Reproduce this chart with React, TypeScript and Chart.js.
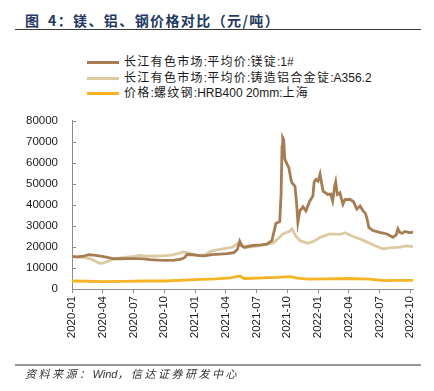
import React, { useEffect, useRef } from "react";
import { Chart, registerables } from "chart.js";

Chart.register(...registerables);

const TITLE = "图 4：镁、铝、钢价格对比（元/吨）";
const SOURCE = "资料来源：Wind，信达证券研发中心";

const seriesNames = [
  "长江有色市场:平均价:镁锭:1#",
  "长江有色市场:平均价:铸造铝合金锭:A356.2",
  "价格:螺纹钢:HRB400 20mm:上海",
];
const seriesColors = ["#A67C52", "#DCCAA2", "#F6B324"];

const xTickLabels = [
  "2020-01", "2020-04", "2020-07", "2020-10",
  "2021-01", "2021-04", "2021-07", "2021-10",
  "2022-01", "2022-04", "2022-07", "2022-10",
];
const yTickValues = [0, 10000, 20000, 30000, 40000, 50000, 60000, 70000, 80000];

const mgDates = [
  "2020-01-01", "2020-01-15", "2020-02-05", "2020-02-20", "2020-03-05", "2020-03-25",
  "2020-04-15", "2020-05-01", "2020-05-20", "2020-06-15", "2020-07-10", "2020-08-01",
  "2020-08-20", "2020-09-15", "2020-10-10", "2020-11-01", "2020-11-20", "2020-12-01",
  "2020-12-07", "2020-12-25", "2021-01-15", "2021-01-30", "2021-02-20", "2021-03-15",
  "2021-04-05", "2021-04-25", "2021-05-05", "2021-05-12", "2021-05-18", "2021-05-25",
  "2021-06-20", "2021-07-15", "2021-08-01", "2021-08-16", "2021-08-25", "2021-08-28",
  "2021-09-09", "2021-09-13", "2021-09-16", "2021-09-18", "2021-09-21", "2021-09-24",
  "2021-09-27", "2021-10-06", "2021-10-12", "2021-10-15", "2021-10-24", "2021-10-29",
  "2021-11-02", "2021-11-08", "2021-11-17", "2021-11-26", "2021-12-07", "2021-12-16",
  "2021-12-20", "2021-12-25", "2022-01-01", "2022-01-07", "2022-01-12", "2022-01-16",
  "2022-01-30", "2022-02-08", "2022-02-14", "2022-02-20", "2022-02-23", "2022-02-28",
  "2022-03-05", "2022-03-14", "2022-03-20", "2022-04-04", "2022-04-15", "2022-04-25",
  "2022-05-04", "2022-05-13", "2022-05-20", "2022-05-25", "2022-05-30", "2022-06-12",
  "2022-07-01", "2022-07-23", "2022-08-10", "2022-08-20", "2022-08-25", "2022-09-01",
  "2022-09-07", "2022-09-16", "2022-09-28", "2022-10-09",
];
const mgValues = [
  15500, 15300, 15600, 16300, 16100, 15600,
  15000, 14500, 14400, 14500, 14500, 14300,
  14000, 13700, 13600, 13700, 14200, 15000,
  16400, 16300, 15900, 15800, 16400, 16600,
  16800, 17300, 18800, 22700, 20500, 19900,
  20700, 21000, 21300, 23000, 29000, 31200,
  32100, 45000, 68000, 72000, 71000, 62000,
  60700, 57500, 52000, 50500, 48900, 40000,
  31700, 37200, 39100, 37200, 41900, 44200,
  51000, 52100, 51300, 54700, 50000, 46600,
  45000, 45200, 41900, 49000, 51000, 45000,
  45800, 40300, 42500, 42700, 41500, 38000,
  39500, 37200, 36000, 33300, 29300, 27800,
  27000, 26200, 24600, 25800, 28600, 26800,
  26500, 27400, 26800, 27000,
];

const alDates = [
  "2020-01-01", "2020-01-20", "2020-02-10", "2020-03-01", "2020-03-15", "2020-03-25",
  "2020-04-10", "2020-04-25", "2020-05-10", "2020-06-05", "2020-07-01", "2020-07-20",
  "2020-08-10", "2020-09-01", "2020-10-01", "2020-10-25", "2020-11-15", "2020-11-25",
  "2020-12-10", "2020-12-25", "2021-01-10", "2021-01-30", "2021-02-20", "2021-03-13",
  "2021-04-21", "2021-05-12", "2021-05-27", "2021-07-10", "2021-08-19", "2021-09-05",
  "2021-09-18", "2021-10-08", "2021-10-15", "2021-10-25", "2021-11-08", "2021-12-01",
  "2021-12-20", "2022-01-07", "2022-02-06", "2022-03-05", "2022-03-20", "2022-04-13",
  "2022-05-01", "2022-05-25", "2022-06-20", "2022-07-11", "2022-08-01", "2022-09-01",
  "2022-09-20", "2022-10-09",
];
const alValues = [
  15400, 15200, 15000, 14000, 12700, 12100,
  12800, 13800, 14500, 15000, 15500, 16000,
  15600, 15700, 15800, 16200, 17000, 17600,
  17300, 16500, 16000, 16300, 18000, 18800,
  19900, 22300, 19600, 20700, 21800, 24000,
  26200, 27500, 28600, 25500, 23000, 21800,
  22800, 24600, 26200, 26000, 26800, 25000,
  24000, 22300, 20500, 19100, 19600, 19900,
  20500, 20200,
];

const rebarDates = [
  "2020-01-01", "2020-02-15", "2020-04-01", "2020-06-01", "2020-08-01", "2020-10-01",
  "2020-12-01", "2021-01-01", "2021-03-01", "2021-04-15", "2021-05-12", "2021-05-25",
  "2021-07-01", "2021-09-01", "2021-10-10", "2021-11-01", "2021-12-01", "2022-02-01",
  "2022-04-01", "2022-06-01", "2022-07-15", "2022-08-15", "2022-10-09",
];
const rebarValues = [
  3800, 3700, 3500, 3600, 3800, 3800,
  4200, 4500, 4800, 5300, 6200, 5000,
  5200, 5500, 5900, 5200, 4700, 4800,
  5000, 4700, 4000, 4100, 4100,
];

function monthIndex(d: string): number {
  const [y, m, dd] = d.split("-").map(Number);
  return (y - 2020) * 12 + (m - 1) + (dd - 1) / 30.5;
}

function toPoints(dates: string[], values: number[]) {
  return dates.map((d, i) => ({ x: monthIndex(d), y: values[i] }));
}

const CJK = /[\u3000-\u303f\u3400-\u9fff\uff00-\uffef]/;
function spacedText(text: string, spacing: number) {
  const runs: { cjk: boolean; s: string }[] = [];
  for (const ch of text) {
    const c = CJK.test(ch);
    if (runs.length && runs[runs.length - 1].cjk === c) runs[runs.length - 1].s += ch;
    else runs.push({ cjk: c, s: ch });
  }
  return runs.map((r, i) => (
    <span key={i} style={r.cjk ? { letterSpacing: spacing + "px" } : undefined}>{r.s}</span>
  ));
}

const yTickMarks = {
  id: "yTickMarks",
  afterDraw(chart: any) {
    const y = chart.scales.y;
    const ctx = chart.ctx;
    ctx.save();
    ctx.strokeStyle = "#8c8c8c";
    ctx.lineWidth = 1;
    y.ticks.forEach((t: any) => {
      const py = Math.round(y.getPixelForValue(t.value)) + 0.5;
      ctx.beginPath();
      ctx.moveTo(y.right, py);
      ctx.lineTo(y.right + 4, py);
      ctx.stroke();
    });
    ctx.restore();
  },
};

export default function App() {
  const ref = useRef<HTMLCanvasElement>(null);

  useEffect(() => {
    document.body.style.margin = "0";
    const ctx = ref.current!.getContext("2d")!;
    const datasets = [
      { data: toPoints(mgDates, mgValues) },
      { data: toPoints(alDates, alValues) },
      { data: toPoints(rebarDates, rebarValues) },
    ].map((d, i) => ({
      label: seriesNames[i],
      data: d.data,
      borderColor: seriesColors[i],
      backgroundColor: seriesColors[i],
      borderWidth: 2.8,
      pointRadius: 0,
      tension: 0,
    }));
    const maxX = Math.max(
      monthIndex(mgDates[mgDates.length - 1]),
      monthIndex(alDates[alDates.length - 1]),
      monthIndex(rebarDates[rebarDates.length - 1])
    );
    const font = { family: "'Liberation Sans', Arial, sans-serif", size: 11.5 };
    const chart = new Chart(ctx, {
      type: "line",
      data: { datasets },
      options: {
        animation: false,
        responsive: false,
        maintainAspectRatio: false,
        layout: { padding: { top: 20, right: 21, left: 0, bottom: 0 } },
        plugins: { legend: { display: false }, tooltip: { enabled: false } },
        scales: {
          x: {
            type: "linear",
            min: 0,
            max: maxX,
            afterBuildTicks: (s: any) => {
              s.ticks = xTickLabels.map((_, i) => ({ value: i * 3 }));
            },
            afterFit: (s: any) => {
              s.height = 76;
            },
            ticks: {
              autoSkip: false,
              minRotation: 90,
              maxRotation: 90,
              padding: 3,
              color: "#1a1a1a",
              font,
              callback: (v: any) => xTickLabels[Math.round(Number(v) / 3)] ?? "",
            },
            grid: {
              display: true,
              drawOnChartArea: false,
              drawTicks: true,
              tickLength: 4,
              color: "#8c8c8c",
            },
            border: { display: true, color: "#8c8c8c", width: 1 },
          },
          y: {
            min: 0,
            max: 80000,
            afterBuildTicks: (s: any) => {
              s.ticks = yTickValues.map((v) => ({ value: v }));
            },
            afterFit: (s: any) => {
              s.width = 72;
            },
            ticks: {
              padding: 14,
              color: "#1a1a1a",
              font,
              callback: (v: any) => String(Math.round(Number(v))),
            },
            grid: { display: false, drawTicks: false },
            border: { display: true, color: "#8c8c8c", width: 1 },
          },
        },
      },
      plugins: [yTickMarks],
    });
    return () => chart.destroy();
  }, []);

  const cjkFont = "'Liberation Sans', Arial, 'Noto Sans CJK SC', sans-serif";

  return (
    <div style={{ position: "fixed", left: 0, top: 0, width: 434, height: 391, background: "#fff", fontFamily: cjkFont }}>
      <div style={{ position: "absolute", left: 25, top: 11, fontSize: 14, fontWeight: 700, color: "#1F3864", whiteSpace: "pre", lineHeight: "18px", letterSpacing: "1.4px", wordSpacing: "3px", fontFamily: "'Noto Sans CJK SC', sans-serif" }}>
        {TITLE}
      </div>
      <div style={{ position: "absolute", left: 15, top: 29, width: 406, height: 0, borderTop: "1.5px solid #3a3a3a" }} />
      {seriesNames.map((n, i) => (
        <div key={i} style={{ position: "absolute", left: 87, top: [54, 70, 85][i], height: 16, display: "flex", alignItems: "center", whiteSpace: "nowrap" }}>
          <div style={{ width: 32, height: 3, background: seriesColors[i], marginRight: 5 }} />
          <span style={{ fontSize: 12, color: "#1a1a1a", lineHeight: "16px" }}>{spacedText(n, 1.3)}</span>
        </div>
      ))}
      <canvas ref={ref} width={434} height={265} style={{ position: "absolute", left: 0, top: 100, width: 434, height: 265 }} />
      <div style={{ position: "absolute", left: 15, top: 364, width: 406, height: 0, borderTop: "2px solid #999" }} />
      <div style={{ position: "absolute", left: 25, top: 367, fontSize: 11, fontStyle: "italic", color: "#333", whiteSpace: "nowrap", lineHeight: "15px" }}>
        {spacedText(SOURCE, 2.5)}
      </div>
    </div>
  );
}
